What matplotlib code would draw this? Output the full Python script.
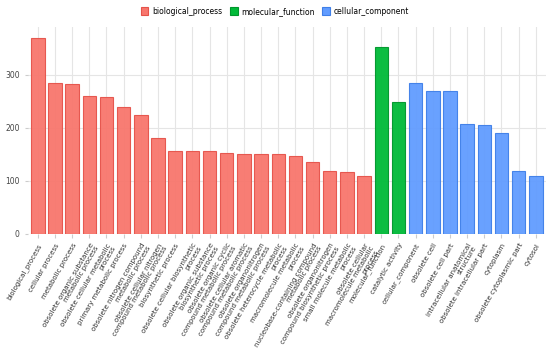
import textwrap

import matplotlib
matplotlib.use("Agg")
import matplotlib.pyplot as plt
from matplotlib.patches import Patch

# GO terms, in plotting order
bp_terms = [
    "biological_process",
    "cellular process",
    "metabolic process",
    "obsolete organic substance metabolic process",
    "obsolete cellular metabolic process",
    "primary metabolic process",
    "obsolete nitrogen compound metabolic process",
    "obsolete cellular nitrogen compound metabolic process",
    "biosynthetic process",
    "obsolete cellular biosynthetic process",
    "obsolete organic substance biosynthetic process",
    "obsolete organic cyclic compound metabolic process",
    "obsolete cellular aromatic compound metabolic process",
    "obsolete organonitrogen compound metabolic process",
    "obsolete heterocycle metabolic process",
    "macromolecule metabolic process",
    "nucleobase-containing compound metabolic process",
    "obsolete organonitrogen compound biosynthetic process",
    "small molecule metabolic process",
    "obsolete cellular macromolecule metabolic process",
]
bp_counts = [370, 284, 282, 260, 259, 240, 225, 180, 157, 157,
             156, 152, 150, 150, 150, 147, 135, 119, 116, 109]

mf_terms = ["molecular_function", "catalytic activity"]
mf_counts = [352, 248]

cc_terms = [
    "cellular_component",
    "obsolete cell",
    "obsolete cell part",
    "intracellular anatomical structure",
    "obsolete intracellular part",
    "cytoplasm",
    "obsolete cytoplasmic part",
    "cytosol",
]
cc_counts = [284, 269, 269, 208, 206, 191, 118, 109]

groups = ["biological_process", "molecular_function", "cellular_component"]
fills = {"biological_process": "#F8766D", "molecular_function": "#00BA38",
         "cellular_component": "#619CFF"}
edges = {"biological_process": "#E5534A", "molecular_function": "#00962C",
         "cellular_component": "#3F7FE8"}

terms = bp_terms + mf_terms + cc_terms
counts = bp_counts + mf_counts + cc_counts
cats = (["biological_process"] * len(bp_terms) + ["molecular_function"] * len(mf_terms)
        + ["cellular_component"] * len(cc_terms))

fig = plt.figure(figsize=(5.5, 3.48), dpi=100)
ax = fig.add_axes([0.05, 0.328, 0.943, 0.594])

xs = list(range(len(terms)))
ax.bar(xs, counts, width=0.78,
       color=[fills[c] for c in cats], edgecolor=[edges[c] for c in cats],
       linewidth=0.8, alpha=0.95, zorder=3)

ax.set_xlim(-0.6, len(terms) - 0.4)
ax.set_ylim(0, 390)
ax.set_yticks([0, 100, 200, 300])
ax.set_xticks(xs)
labels = [textwrap.fill(t, width=30, break_on_hyphens=False) for t in terms]
ax.set_xticklabels(labels, rotation=60, ha="right", rotation_mode="anchor",
                   fontsize=5.0, color="#333333", multialignment="right",
                   linespacing=1.05)
ax.tick_params(axis="y", labelsize=5.5, labelcolor="#444444", length=2,
               color="#cccccc")
ax.tick_params(axis="x", length=3, color="#cccccc", pad=3)

ax.grid(True, color="#e5e5e5", linewidth=0.8, zorder=0)
ax.set_axisbelow(True)
for s in ax.spines.values():
    s.set_visible(False)

ax.set_ylabel("Count", fontsize=7, color="#222222", labelpad=3)

handles = [Patch(facecolor=fills[g], edgecolor=edges[g], linewidth=0.8, label=g)
           for g in groups]
fig.legend(handles=handles, loc="upper center", bbox_to_anchor=(0.5, 1.0),
           ncol=3, frameon=False, fontsize=5.5, handlelength=1.0,
           handleheight=1.2, handletextpad=0.5, columnspacing=1.0)

fig.savefig("out.png", dpi=100)
